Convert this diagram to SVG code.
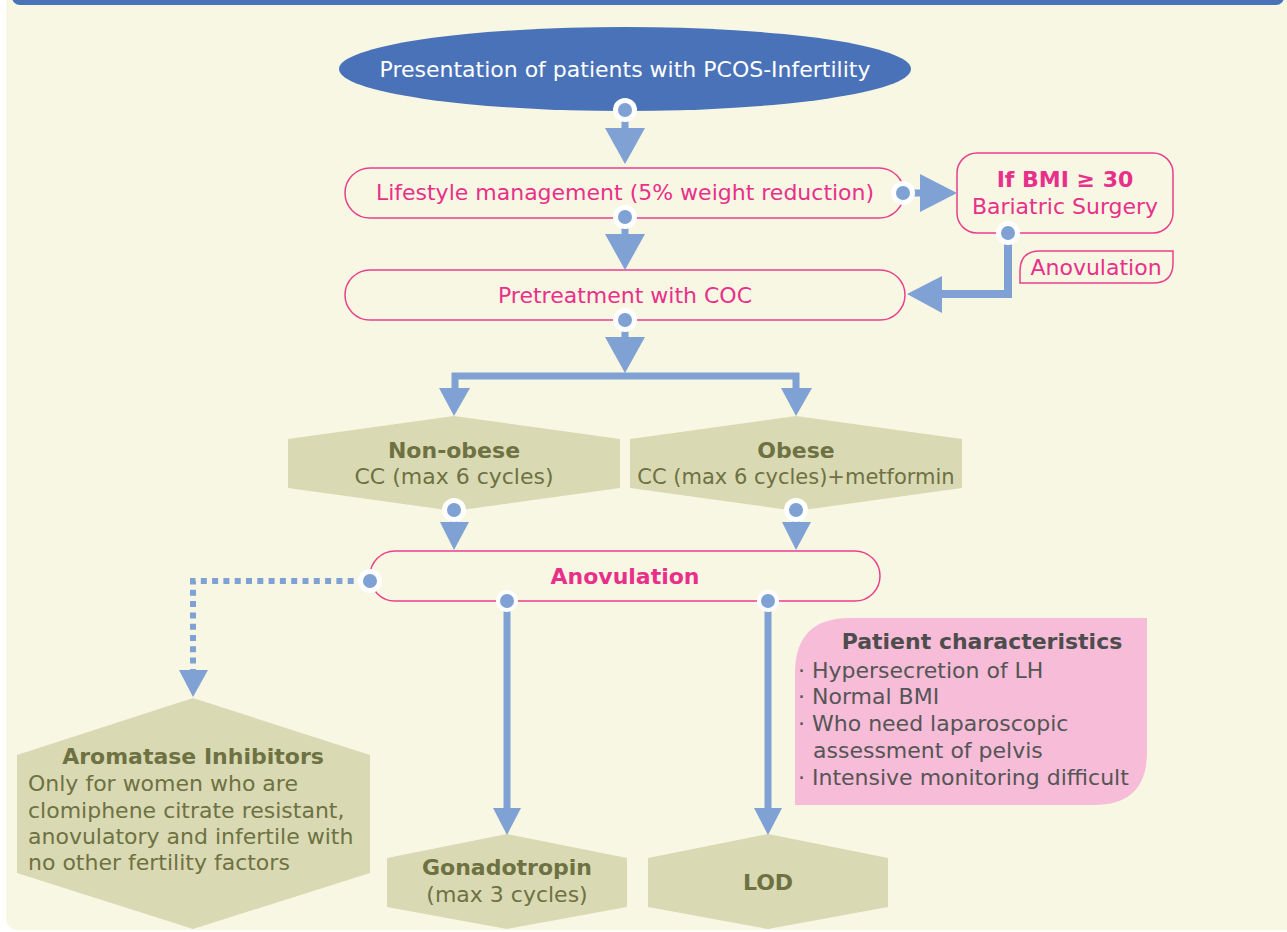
<svg xmlns="http://www.w3.org/2000/svg" width="1287" height="932" viewBox="0 0 1287 932">
<defs>
<style>
text{font-family:"DejaVu Sans","Verdana",sans-serif;font-size:22px}
.pinkbox{fill:#F8F7E4;stroke:#E8408C;stroke-width:1.5}
.pt{fill:#E8308A;text-anchor:middle}
.hex{fill:#D9DAB3}
.ht{fill:#6E7142;text-anchor:middle}
.hl{fill:#6E7142}
.b{font-weight:bold}
.ar{fill:#7FA1D3}
.ln{stroke:#7FA1D3;stroke-width:7;fill:none}
.ring{fill:#FFFFFF}
.dot{fill:#7FA1D3}
</style>
</defs>
<rect x="0" y="0" width="1287" height="932" fill="#FFFFFF"/>
<rect x="6" y="-20" width="1300" height="950" rx="12" fill="#F8F7E4"/>
<rect x="12" y="-20" width="1272" height="25" rx="8" fill="#4A72B8"/>

<g id="start">
<ellipse cx="625" cy="69" rx="286" ry="42" fill="#4A72B8"/>
<text x="625" y="77" fill="#FFFFFF" text-anchor="middle">Presentation of patients with PCOS-Infertility</text>
</g>
<g id="lifestyle">
<rect class="pinkbox" x="345" y="168" width="559" height="50" rx="25"/>
<text class="pt" x="625" y="200">Lifestyle management (5% weight reduction)</text>
</g>
<g id="bmi">
<rect class="pinkbox" x="957" y="153" width="216" height="80" rx="20"/>
<text class="pt b" x="1065" y="187">If BMI ≥ 30</text>
<text class="pt" x="1065" y="214">Bariatric Surgery</text>
</g>
<g id="anov-label">
<path class="pinkbox" d="M1020,283 L1020,271 Q1020,251 1040,251 L1173,251 L1173,263 Q1173,283 1153,283 Z"/>
<text class="pt" x="1096" y="275">Anovulation</text>
</g>
<g id="pretreatment">
<rect class="pinkbox" x="345" y="270" width="560" height="50" rx="25"/>
<text class="pt" x="625" y="303">Pretreatment with COC</text>
</g>
<g id="nonobese">
<polygon class="hex" points="454,416 620,439 620,488 454,511 288,488 288,439"/>
<text class="ht b" x="454" y="458">Non-obese</text>
<text class="ht" x="454" y="484">CC (max 6 cycles)</text>
</g>
<g id="obese">
<polygon class="hex" points="796,416 962,439 962,488 796,511 630,488 630,439"/>
<text class="ht b" x="796" y="458">Obese</text>
<text class="ht" x="796" y="484" style="font-size:21px">CC (max 6 cycles)+metformin</text>
</g>
<g id="anovulation">
<rect class="pinkbox" x="370" y="551" width="510" height="50" rx="25"/>
<text class="pt b" x="625" y="584">Anovulation</text>
</g>
<g id="aromatase">
<polygon class="hex" points="193,698 370,755 370,873 193,929 17,873 17,755"/>
<text class="ht b" x="193" y="764">Aromatase Inhibitors</text>
<text class="hl" x="28" y="791">Only for women who are</text>
<text class="hl" x="28" y="818">clomiphene citrate resistant,</text>
<text class="hl" x="28" y="844">anovulatory and infertile with</text>
<text class="hl" x="28" y="870">no other fertility factors</text>
</g>
<g id="gonadotropin">
<polygon class="hex" points="507,834 627,858 627,907 507,929 387,907 387,858"/>
<text class="ht b" x="507" y="875">Gonadotropin</text>
<text class="ht" x="507" y="902">(max 3 cycles)</text>
</g>
<g id="lod">
<polygon class="hex" points="768,834 888,858 888,907 768,929 648,907 648,858"/>
<text class="ht b" x="768" y="890">LOD</text>
</g>
<g id="patient">
<path d="M850,618 L1147,618 L1147,752 Q1147,805 1094,805 L795,805 L795,673 Q795,618 850,618 Z" fill="#F7BCD7"/>
<text x="982" y="649" fill="#4D4D4D" text-anchor="middle" font-weight="bold">Patient characteristics</text>
<g fill="#555555">
<text x="798" y="678">· Hypersecretion of LH</text>
<text x="798" y="704">· Normal BMI</text>
<text x="798" y="731">· Who need laparoscopic</text>
<text x="813" y="758">assessment of pelvis</text>
<text x="798" y="785">· Intensive monitoring difficult</text>
</g>
</g>

<g id="connectors">
<line class="ln" x1="625" y1="110" x2="625" y2="130"/>
<polygon class="ar" points="605,128 645,128 625,164"/>
<circle class="ring" cx="625" cy="110" r="12"/><circle class="dot" cx="625" cy="110" r="7"/>

<line class="ln" x1="625" y1="217" x2="625" y2="236"/>
<polygon class="ar" points="605,234 645,234 625,270"/>
<circle class="ring" cx="625" cy="217" r="12"/><circle class="dot" cx="625" cy="217" r="7"/>

<line class="ln" x1="903" y1="193" x2="922" y2="193"/>
<polygon class="ar" points="920,174 920,212 957,193"/>
<circle class="ring" cx="903" cy="193" r="12"/><circle class="dot" cx="903" cy="193" r="7"/>

<polyline class="ln" style="stroke-width:8" points="1008,233 1008,294 940,294"/>
<polygon class="ar" points="942,276 942,313 907,294"/>
<circle class="ring" cx="1008" cy="233" r="12"/><circle class="dot" cx="1008" cy="233" r="7"/>

<line class="ln" x1="625" y1="320" x2="625" y2="340"/>
<polygon class="ar" points="605,337 645,337 625,373"/>
<polyline class="ln" points="455,391 455,376 796,376 796,391"/>
<polygon class="ar" points="439,388 470,388 454,416"/>
<polygon class="ar" points="781,388 812,388 796,416"/>
<circle class="ring" cx="625" cy="320" r="12"/><circle class="dot" cx="625" cy="320" r="7"/>

<line class="ln" x1="454" y1="510" x2="454" y2="525"/>
<polygon class="ar" points="440,522 469,522 454,550"/>
<circle class="ring" cx="454" cy="510" r="12"/><circle class="dot" cx="454" cy="510" r="7"/>

<line class="ln" x1="796" y1="510" x2="796" y2="525"/>
<polygon class="ar" points="782,522 811,522 796,550"/>
<circle class="ring" cx="796" cy="510" r="12"/><circle class="dot" cx="796" cy="510" r="7"/>

<path d="M365,581 H193 V672" fill="none" stroke="#7FA1D3" stroke-width="6" stroke-dasharray="6 5.3"/>
<polygon class="ar" points="179,670 208,670 193,697"/>
<circle class="ring" cx="370" cy="581" r="12"/><circle class="dot" cx="370" cy="581" r="7"/>

<line class="ln" x1="507" y1="601" x2="507" y2="811"/>
<polygon class="ar" points="493,808 521,808 507,835"/>
<circle class="ring" cx="507" cy="601" r="11"/><circle class="dot" cx="507" cy="601" r="7"/>

<line class="ln" x1="768" y1="601" x2="768" y2="811"/>
<polygon class="ar" points="754,808 782,808 768,835"/>
<circle class="ring" cx="768" cy="601" r="11"/><circle class="dot" cx="768" cy="601" r="7"/>
</g>
</svg>
